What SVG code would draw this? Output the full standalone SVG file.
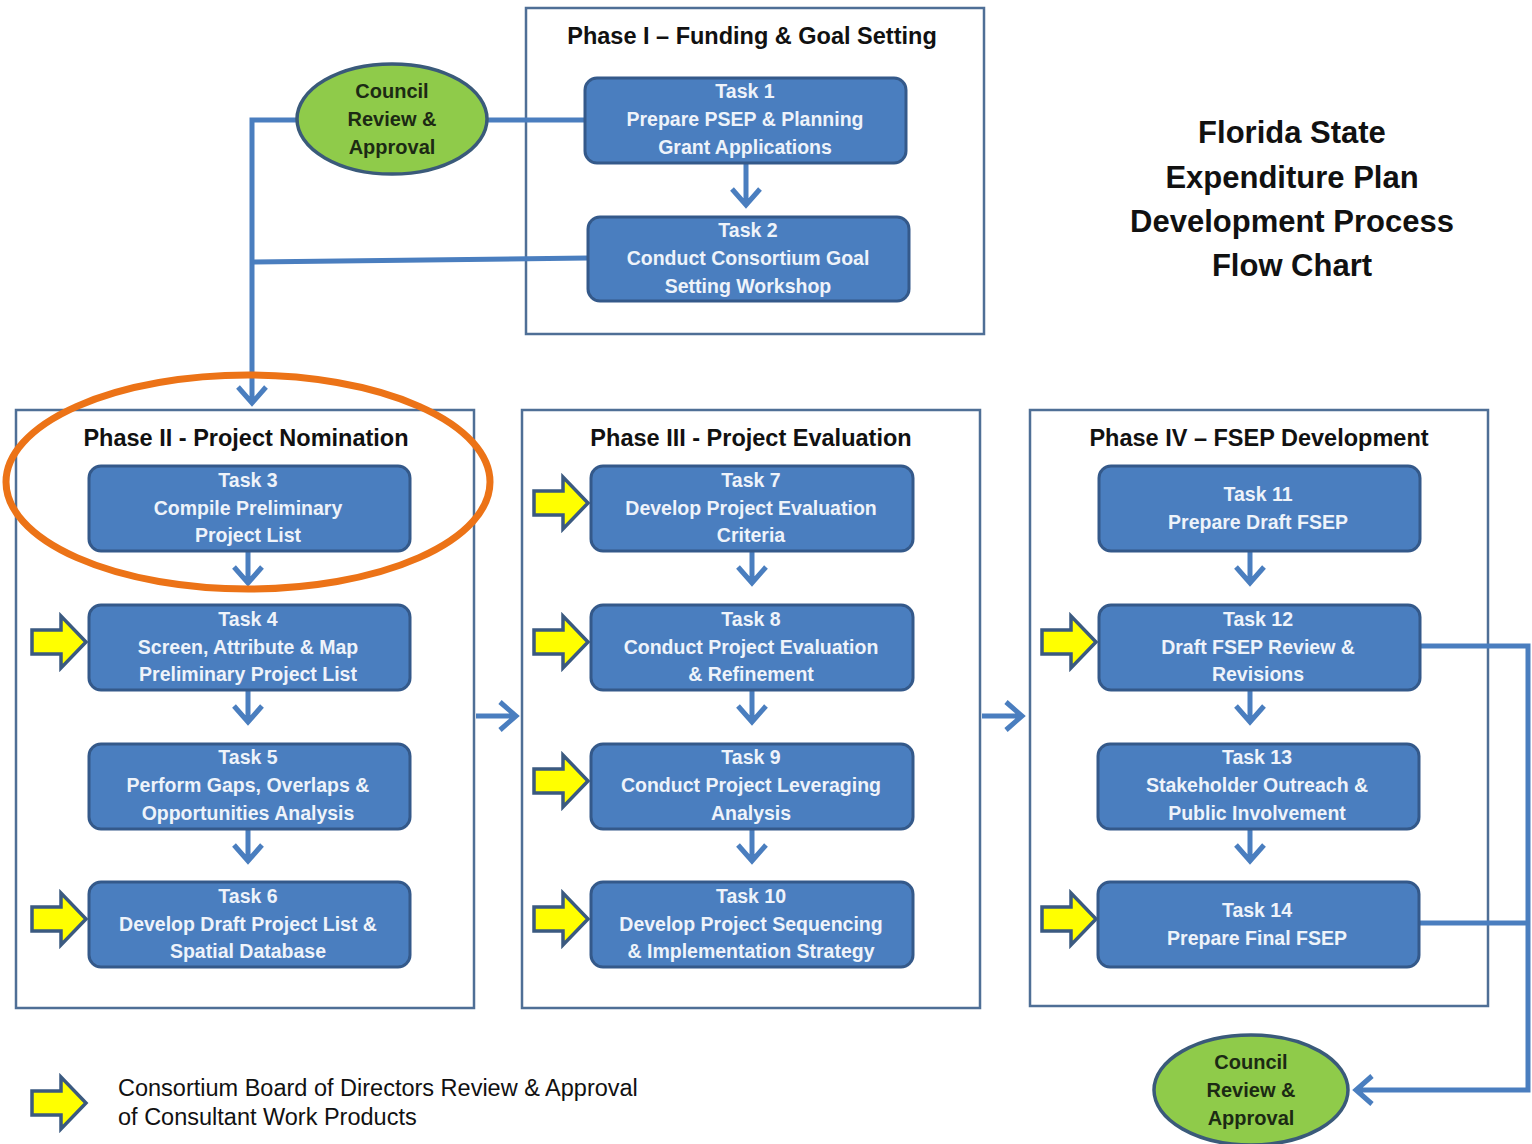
<svg xmlns="http://www.w3.org/2000/svg" width="1532" height="1144" viewBox="0 0 1532 1144">
<defs>
<style>
.phase{fill:none;stroke:#4f6f96;stroke-width:2.5}
.ptitle{font-family:"Liberation Sans",Arial,sans-serif;font-weight:bold;font-size:23.5px;fill:#111111;text-anchor:middle}
.task{fill:#4a7ebf;stroke:#34598a;stroke-width:3}
.ttext{font-family:"Liberation Sans",Arial,sans-serif;font-weight:bold;font-size:19.5px;fill:#eef3fa;text-anchor:middle}
.council{fill:#8fcb4a;stroke:#3a5a7a;stroke-width:3.5}
.ctext{font-family:"Liberation Sans",Arial,sans-serif;font-weight:bold;font-size:20px;fill:#1c2a14;text-anchor:middle}
.conn{fill:none;stroke:#4a7ebf;stroke-width:5}
.yarrow{fill:#ffff00;stroke:#3b5a80;stroke-width:3.5;stroke-linejoin:miter}
.title{font-family:"Liberation Sans",Arial,sans-serif;font-weight:bold;font-size:31px;fill:#111111;text-anchor:middle}
.legend{font-family:"Liberation Sans",Arial,sans-serif;font-size:23.5px;fill:#111111}
.ring{fill:none;stroke:#ec7317;stroke-width:7}
</style>
<path id="ya" d="M0 -12 H29 V-26 L54 0 L29 26 V12 H0 Z"/>
</defs>
<rect width="1532" height="1144" fill="#ffffff"/>

<g id="phase1">
<rect class="phase" x="526" y="8" width="458" height="326"/>
<text class="ptitle" x="752" y="44">Phase I – Funding &amp; Goal Setting</text>
</g>
<g id="phase2">
<rect class="phase" x="16" y="410" width="458" height="598"/>
<text class="ptitle" x="246" y="446">Phase II - Project Nomination</text>
</g>
<g id="phase3">
<rect class="phase" x="522" y="410" width="458" height="598"/>
<text class="ptitle" x="751" y="446">Phase III - Project Evaluation</text>
</g>
<g id="phase4">
<rect class="phase" x="1030" y="410" width="458" height="596"/>
<text class="ptitle" x="1259" y="446">Phase IV – FSEP Development</text>
</g>

<g id="connectors">
<path class="conn" d="M297 120 H252 V402 M238 387 L252 403 L266 387"/>
<path class="conn" d="M487 120 H585"/>
<path class="conn" d="M588 258 L252 262"/>
<path class="conn" d="M746 163 V204 M732 189 L746 205 L760 189"/>
<path class="conn" d="M248 551 V582 M234 567 L248 583 L262 567"/>
<path class="conn" d="M248 690 V721 M234 706 L248 722 L262 706"/>
<path class="conn" d="M248 829 V860 M234 845 L248 861 L262 845"/>
<path class="conn" d="M752 551 V582 M738 567 L752 583 L766 567"/>
<path class="conn" d="M752 690 V721 M738 706 L752 722 L766 706"/>
<path class="conn" d="M752 829 V860 M738 845 L752 861 L766 845"/>
<path class="conn" d="M1250 551 V582 M1236 567 L1250 583 L1264 567"/>
<path class="conn" d="M1250 690 V721 M1236 706 L1250 722 L1264 706"/>
<path class="conn" d="M1250 829 V860 M1236 845 L1250 861 L1264 845"/>
<path class="conn" d="M476 716 H514 M500 702 L516 716 L500 730"/>
<path class="conn" d="M982 716 H1020 M1006 702 L1022 716 L1006 730"/>
<path class="conn" d="M1420 646 H1528 V1090 H1356 M1372 1076 L1356 1090 L1372 1104"/>
<path class="conn" d="M1420 923 H1528"/>
</g>

<g id="council1">
<ellipse class="council" cx="392" cy="119" rx="95" ry="55"/>
<text class="ctext" x="392" y="98">Council</text>
<text class="ctext" x="392" y="126">Review &amp;</text>
<text class="ctext" x="392" y="154">Approval</text>
</g>
<g id="council2">
<ellipse class="council" cx="1251" cy="1090" rx="97" ry="55"/>
<text class="ctext" x="1251" y="1069">Council</text>
<text class="ctext" x="1251" y="1097">Review &amp;</text>
<text class="ctext" x="1251" y="1125">Approval</text>
</g>

<g id="task1">
<rect class="task" x="585" y="78" width="321" height="85" rx="12"/>
<text class="ttext" x="745" y="98">Task 1</text>
<text class="ttext" x="745" y="126">Prepare PSEP  &amp; Planning</text>
<text class="ttext" x="745" y="154">Grant Applications</text>
</g>
<g id="task2">
<rect class="task" x="588" y="217" width="321" height="84" rx="12"/>
<text class="ttext" x="748" y="237">Task 2</text>
<text class="ttext" x="748" y="265">Conduct Consortium Goal</text>
<text class="ttext" x="748" y="293">Setting Workshop</text>
</g>

<g id="task3">
<rect class="task" x="89" y="466" width="321" height="85" rx="12"/>
<text class="ttext" x="248" y="487">Task 3</text>
<text class="ttext" x="248" y="515">Compile Preliminary</text>
<text class="ttext" x="248" y="542">Project List</text>
</g>
<g id="task4">
<rect class="task" x="89" y="605" width="321" height="85" rx="12"/>
<text class="ttext" x="248" y="626">Task 4</text>
<text class="ttext" x="248" y="654">Screen, Attribute &amp; Map</text>
<text class="ttext" x="248" y="681">Preliminary Project List</text>
</g>
<g id="task5">
<rect class="task" x="89" y="744" width="321" height="85" rx="12"/>
<text class="ttext" x="248" y="764">Task 5</text>
<text class="ttext" x="248" y="792">Perform Gaps, Overlaps &amp;</text>
<text class="ttext" x="248" y="820">Opportunities Analysis</text>
</g>
<g id="task6">
<rect class="task" x="89" y="882" width="321" height="85" rx="12"/>
<text class="ttext" x="248" y="903">Task 6</text>
<text class="ttext" x="248" y="931">Develop  Draft Project List &amp;</text>
<text class="ttext" x="248" y="958">Spatial Database</text>
</g>

<g id="task7">
<rect class="task" x="591" y="466" width="322" height="85" rx="12"/>
<text class="ttext" x="751" y="487">Task 7</text>
<text class="ttext" x="751" y="515">Develop Project Evaluation</text>
<text class="ttext" x="751" y="542">Criteria</text>
</g>
<g id="task8">
<rect class="task" x="591" y="605" width="322" height="85" rx="12"/>
<text class="ttext" x="751" y="626">Task 8</text>
<text class="ttext" x="751" y="654">Conduct Project Evaluation</text>
<text class="ttext" x="751" y="681">&amp; Refinement</text>
</g>
<g id="task9">
<rect class="task" x="591" y="744" width="322" height="85" rx="12"/>
<text class="ttext" x="751" y="764">Task 9</text>
<text class="ttext" x="751" y="792">Conduct Project Leveraging</text>
<text class="ttext" x="751" y="820">Analysis</text>
</g>
<g id="task10">
<rect class="task" x="591" y="882" width="322" height="85" rx="12"/>
<text class="ttext" x="751" y="903">Task 10</text>
<text class="ttext" x="751" y="931">Develop Project Sequencing</text>
<text class="ttext" x="751" y="958">&amp; Implementation Strategy</text>
</g>

<g id="task11">
<rect class="task" x="1099" y="466" width="321" height="85" rx="12"/>
<text class="ttext" x="1258" y="501">Task 11</text>
<text class="ttext" x="1258" y="529">Prepare Draft  FSEP</text>
</g>
<g id="task12">
<rect class="task" x="1099" y="605" width="321" height="85" rx="12"/>
<text class="ttext" x="1258" y="626">Task 12</text>
<text class="ttext" x="1258" y="654">Draft FSEP Review &amp;</text>
<text class="ttext" x="1258" y="681">Revisions</text>
</g>
<g id="task13">
<rect class="task" x="1098" y="744" width="321" height="85" rx="12"/>
<text class="ttext" x="1257" y="764">Task 13</text>
<text class="ttext" x="1257" y="792">Stakeholder Outreach &amp;</text>
<text class="ttext" x="1257" y="820">Public Involvement</text>
</g>
<g id="task14">
<rect class="task" x="1098" y="882" width="321" height="85" rx="12"/>
<text class="ttext" x="1257" y="917">Task 14</text>
<text class="ttext" x="1257" y="945">Prepare Final  FSEP</text>
</g>

<g id="yellow-arrows">
<use href="#ya" class="yarrow" x="32" y="642"/>
<use href="#ya" class="yarrow" x="32" y="919"/>
<use href="#ya" class="yarrow" x="534" y="503"/>
<use href="#ya" class="yarrow" x="534" y="642"/>
<use href="#ya" class="yarrow" x="534" y="781"/>
<use href="#ya" class="yarrow" x="534" y="919"/>
<use href="#ya" class="yarrow" x="1042" y="642"/>
<use href="#ya" class="yarrow" x="1042" y="919"/>
</g>

<g id="highlight">
<ellipse class="ring" cx="248" cy="482" rx="242" ry="107"/>
</g>

<g id="title">
<text class="title" x="1292" y="143">Florida State</text>
<text class="title" x="1292" y="188">Expenditure  Plan</text>
<text class="title" x="1292" y="232">Development Process</text>
<text class="title" x="1292" y="276">Flow Chart</text>
</g>

<g id="legend">
<use href="#ya" class="yarrow" x="32" y="1103"/>
<text class="legend" x="118" y="1096">Consortium Board of Directors Review &amp; Approval</text>
<text class="legend" x="118" y="1125">of Consultant Work Products</text>
</g>
</svg>
